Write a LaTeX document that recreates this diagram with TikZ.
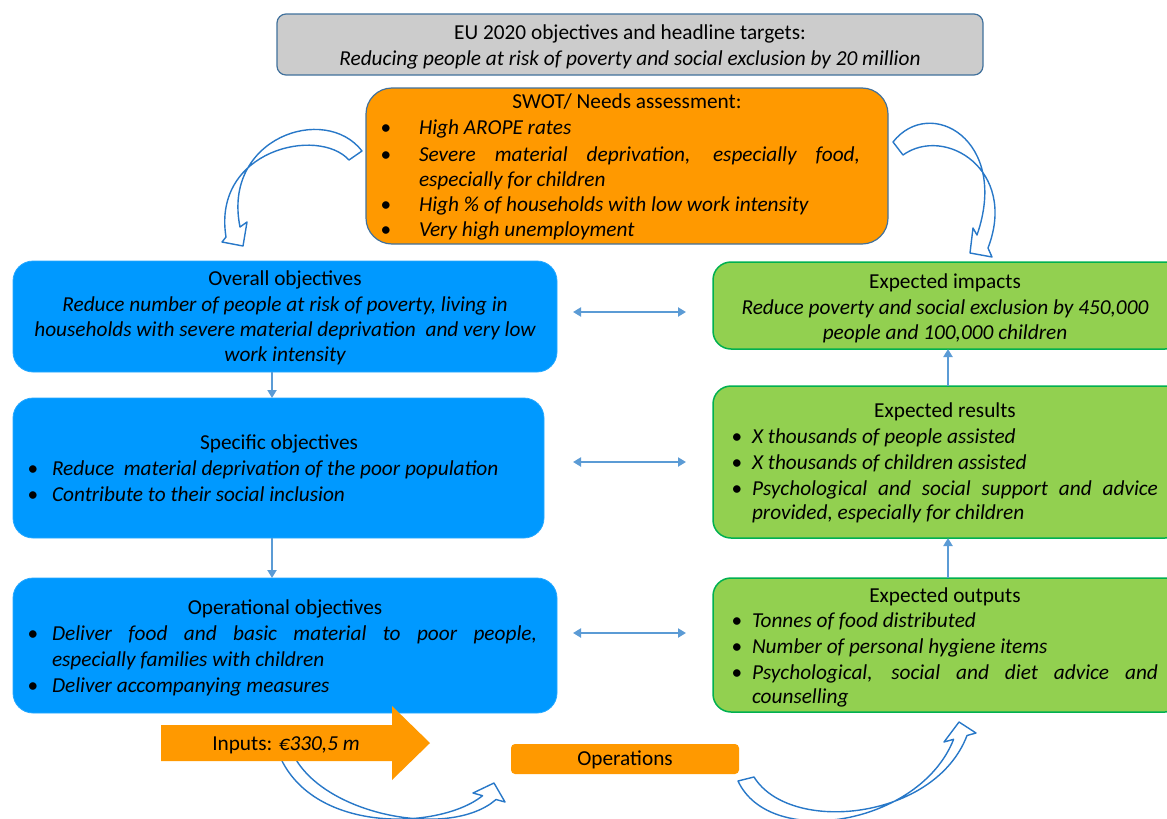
\documentclass[tikz,border=0pt]{standalone}
\usepackage{fontspec}
\setmainfont{Carlito}
\usetikzlibrary{arrows.meta}

\definecolor{bannergray}{RGB}{204,204,204}
\definecolor{frameblue}{RGB}{65,113,156}
\definecolor{swotorange}{RGB}{255,153,0}
\definecolor{objblue}{RGB}{0,153,255}
\definecolor{resgreen}{RGB}{146,208,80}
\definecolor{resgreenline}{RGB}{0,176,80}
\definecolor{linkblue}{RGB}{91,155,213}
\definecolor{curveblue}{RGB}{40,120,200}

\newcommand{\jline}[2]{\makebox[#1][s]{#2}}
\newcommand{\bul}{\textbullet}

\tikzset{
  box/.style={rectangle, inner sep=0pt, outer sep=0pt, anchor=north west},
  bannerbox/.style={box, fill=bannergray, draw=frameblue, line width=1.2pt, rounded corners=9pt},
  swotbox/.style={box, fill=swotorange, draw=frameblue, line width=1.2pt, rounded corners=26pt},
  objbox/.style={box, fill=objblue, draw=objblue!85!white, line width=0.8pt, rounded corners=20pt},
  resbox/.style={box, fill=resgreen, draw=resgreenline, line width=1.5pt, rounded corners=18pt},
  txt/.style={inner sep=0pt, outer sep=0pt, font=\fontsize{21.3}{25}\selectfont, text=black},
  ctr/.style={txt, anchor=base},
  lft/.style={txt, anchor=base west},
  dbl/.style={draw=linkblue, line width=2pt,
    {Triangle[length=8pt,width=9pt]}-{Triangle[length=8pt,width=9pt]}},
  vlink/.style={draw=linkblue, line width=2pt, -{Triangle[length=8pt,width=9pt]}},
  bentarrow/.style={draw=curveblue, fill=white, line width=1.4pt, line join=round},
}

\begin{document}
\begin{tikzpicture}[x=1pt,y=-1pt]
\useasboundingbox (0,0) rectangle (1167,819);
\clip (0,0) rectangle (1167,819);

% curved block arrows (behind everything else)
\draw[bentarrow] (362,151) .. controls (325,103) and (222,138) .. (240,227)
  -- (247,222) -- (243,246) -- (222,242) -- (226,237)
  .. controls (212,150) and (318,126) .. (349,160) -- cycle;
\draw[bentarrow] (893,142) .. controls (930,95) and (1010,140) .. (977,235)
  -- (973,228) -- (970,253) -- (992,257) -- (988,248)
  .. controls (1018,170) and (945,125) .. (903,155) -- cycle;
\draw[bentarrow] (278,752) .. controls (310,835) and (440,830) .. (482.6,795.7)
  -- (473,793) -- (494,783) -- (505,802) -- (496,799.5)
  .. controls (450,840) and (320,815) .. (292,752) -- cycle;
\draw[bentarrow] (738,781) .. controls (770,850) and (920,825) .. (953.6,739.3)
  -- (944,742) -- (959,722) -- (976,733) -- (967,735.5)
  .. controls (935,820) and (790,835) .. (754,777) -- cycle;

% headline banner
\node[bannerbox, minimum width=706pt, minimum height=61pt] (banner) at (277,14) {};
\node[ctr] (bannerA) at (630,39) {EU 2020 objectives and headline targets:};
\node[ctr] (bannerB) at (630,65) {\itshape Reducing people at risk of poverty and social exclusion by 20 million};

% SWOT box
\node[swotbox, minimum width=522pt, minimum height=156pt] (swot) at (366,88) {};
\node[ctr] (swotT) at (627,108) {SWOT/ Needs assessment:};
\node[ctr] (swotb1) at (386,134) {\bul};
\node[ctr] (swotb2) at (386,161) {\bul};
\node[ctr] (swotb3) at (386,211) {\bul};
\node[ctr] (swotb4) at (386,236) {\bul};
\node[lft] (swot1) at (419,134) {\itshape High AROPE rates};
\node[lft] (swot2) at (419,161) {\jline{441pt}{\itshape Severe material deprivation, especially food,}};
\node[lft] (swot3) at (419,186) {\itshape especially for children};
\node[lft] (swot4) at (419,211) {\itshape High \% of households with low work intensity};
\node[lft] (swot5) at (419,236) {\itshape Very high unemployment};

% objectives (left column)
\node[objbox, minimum width=544pt, minimum height=111pt] (ov) at (13,261) {};
\node[ctr] (ovT) at (285,285) {Overall objectives};
\node[ctr] (ov1) at (285,311) {\itshape Reduce number of people at risk of poverty, living in};
\node[ctr] (ov2) at (285,336) {\itshape households with severe material deprivation\ \ and very low};
\node[ctr] (ov3) at (285,361) {\itshape work intensity};

\node[objbox, minimum width=531pt, minimum height=140pt] (spec) at (13,398) {};
\node[ctr] (specT) at (279,449) {Specific objectives};
\node[ctr] (specb1) at (33,475) {\bul};
\node[ctr] (specb2) at (33,501) {\bul};
\node[lft] (spec1) at (52,475) {\itshape Reduce\ \ material deprivation of the poor population};
\node[lft] (spec2) at (52,501) {\itshape Contribute to their social inclusion};

\node[objbox, minimum width=544pt, minimum height=135pt] (op) at (13,578) {};
\node[ctr] (opT) at (285,614) {Operational objectives};
\node[ctr] (opb1) at (33,640) {\bul};
\node[ctr] (opb2) at (33,692) {\bul};
\node[lft] (op1) at (52,640) {\jline{485pt}{\itshape Deliver food and basic material to poor people,}};
\node[lft] (op2) at (52,666) {\itshape especially families with children};
\node[lft] (op3) at (52,692) {\itshape Deliver accompanying measures};

% expected effects (right column)
\node[resbox, minimum width=470pt, minimum height=87pt] (imp) at (713,262) {};
\node[ctr] (impT) at (945,288) {Expected impacts};
\node[ctr] (imp1) at (945,314) {\itshape Reduce poverty and social exclusion by 450,000};
\node[ctr] (imp2) at (945,339) {\itshape people and 100,000 children};

\node[resbox, minimum width=470pt, minimum height=152pt] (res) at (713,386) {};
\node[ctr] (resT) at (945,417) {Expected results};
\node[ctr] (resb1) at (737,443) {\bul};
\node[ctr] (resb2) at (737,469) {\bul};
\node[ctr] (resb3) at (737,495) {\bul};
\node[lft] (res1) at (752,443) {\itshape X thousands of people assisted};
\node[lft] (res2) at (752,469) {\itshape X thousands of children assisted};
\node[lft] (res3) at (752,495) {\jline{406pt}{\itshape Psychological and social support and advice}};
\node[lft] (res4) at (752,519) {\itshape provided, especially for children};

\node[resbox, minimum width=470pt, minimum height=134pt] (out) at (713,578) {};
\node[ctr] (outT) at (945,602) {Expected outputs};
\node[ctr] (outb1) at (737,627) {\bul};
\node[ctr] (outb2) at (737,653) {\bul};
\node[ctr] (outb3) at (737,679) {\bul};
\node[lft] (out1) at (752,627) {\itshape Tonnes of food distributed};
\node[lft] (out2) at (752,653) {\itshape Number of personal hygiene items};
\node[lft] (out3) at (752,679) {\jline{406pt}{\itshape Psychological, social and diet advice and}};
\node[lft] (out4) at (752,703) {\itshape counselling};

% inputs block arrow and operations box
\fill[swotorange] (161,725) -- (392,725) -- (392,706) -- (430,743) -- (392,780)
  -- (392,761) -- (161,761) -- cycle;
\node[ctr] (inputs) at (286,750) {Inputs: \itshape €330,5 m};
\node[box, fill=swotorange, rounded corners=4pt, minimum width=228pt, minimum height=30pt] (opsbox) at (511,744) {};
\node[ctr] (ops) at (625,765) {Operations};

% links between the columns
\draw[dbl, shorten <=16pt, shorten >=27pt] (ov.east |- 0,312) -- (imp.west |- 0,312);
\draw[dbl, shorten <=29pt, shorten >=27pt] (spec.east |- 0,462) -- (res.west |- 0,462);
\draw[dbl, shorten <=16pt, shorten >=27pt] (op.east |- 0,633) -- (out.west |- 0,633);

% links within the columns
\draw[vlink] (ov.south -| 272,0) -- (spec.north -| 272,0);
\draw[vlink] (spec.south -| 272,0) -- (op.north -| 272,0);
\draw[vlink] (res.north -| 948,0) -- (imp.south -| 948,0);
\draw[vlink] (out.north -| 948,0) -- (res.south -| 948,0);
\end{tikzpicture}
\end{document}
